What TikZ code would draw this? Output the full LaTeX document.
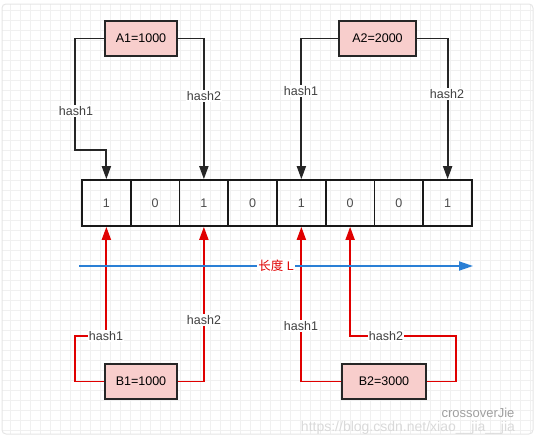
\documentclass[tikz,border=0pt]{standalone}
\usepackage{fontspec}
\setmainfont{Liberation Sans}
\newfontfamily\cjk{Noto Sans CJK SC}
\usetikzlibrary{arrows.meta}

\definecolor{boxpink}{HTML}{F8CECC}
\definecolor{hashred}{HTML}{E00000}
\definecolor{axisblue}{HTML}{2A7FD5}
\newcommand{\twelve}{\fontsize{12.5}{14}\selectfont}

\begin{document}
\begin{tikzpicture}[x=1pt,y=-1pt,
    keybox/.style={draw=black!85, fill=boxpink, line width=1.7pt, minimum height=35pt, inner sep=0pt, font=\twelve},
    cell/.style={draw=black!90, line width=1.7pt, minimum width=48.75pt, minimum height=46pt, inner sep=0pt, font=\twelve, text=black!70},
    blkarrow/.style={draw=black!85, line width=1.8pt, -{Triangle[length=13pt,width=9pt]}},
    redarrow/.style={draw=hashred, line width=1.8pt, -{Triangle[length=13pt,width=9pt]}},
    axisline/.style={draw=axisblue, line width=1.8pt, -{Triangle[length=14pt,width=9pt]}},
    lbl/.style={fill=white, inner sep=1pt, text=black!75, font=\twelve}]

		\useasboundingbox (0,0) rectangle (536,447);

		% grid paper
		\foreach \gx in {10,20,...,530}
			\draw[gray!12, line width=0.6pt] (\gx,4) -- (\gx,434);
		\foreach \gy in {10,20,...,430}
			\draw[gray!12, line width=0.6pt] (2,\gy) -- (533,\gy);
		\draw[gray!20, line width=1pt, rounded corners=4pt] (2,4) rectangle (533,434);

		% the bit array
		\foreach \v [count=\i] in {1,0,1,0,1,0,0,1}
			\node[cell] (c\i) at ({82+48.75*(\i-0.5)},203) {\v};

		% keys
		\node[keybox, minimum width=72pt] (a1) at (141,38.5) {A1=1000};
		\node[keybox, minimum width=77pt] (a2) at (377.5,38.5) {A2=2000};
		\node[keybox, minimum width=72pt] (b1) at (141,381.5) {B1=1000};
		\node[keybox, minimum width=84pt] (b2) at (384,381.5) {B2=3000};

		% bends
		\coordinate (a1k) at (75,150);
		\coordinate (b1k) at (75,336);
		\coordinate (b2k) at (456,336);

		% A1 and A2 set their bits
		\draw[blkarrow] (a1.west) -| (a1k) -| (c1.north);
		\draw[blkarrow] (a1.east) -| (c3.north);
		\draw[blkarrow] (a2.west) -| (c5.north);
		\draw[blkarrow] (a2.east) -| (c8.north);

		% B1 and B2 look up their bits
		\draw[redarrow] (b1.west) -| (b1k) -| (c1.south);
		\draw[redarrow] (b1.east) -| (c3.south);
		\draw[redarrow] (b2.west) -| (c5.south);
		\draw[redarrow] (b2.east) -| (b2k) -| (c6.south);

		\node[lbl] (a1h1) at (76,111) {hash1};
		\node[lbl] (a1h2) at (204,96) {hash2};
		\node[lbl] (a2h1) at (301,91) {hash1};
		\node[lbl] (a2h2) at (447,94) {hash2};
		\node[lbl] (b1h1) at (106,336) {hash1};
		\node[lbl] (b1h2) at (204,320) {hash2};
		\node[lbl] (b2h1) at (301,326) {hash1};
		\node[lbl] (b2h2) at (386,336) {hash2};

		% length of the array
		\coordinate (axs) at (79,266);
		\coordinate (axe) at (473,266);
		\draw[axisline] (axs) -- (axe);
		\node[fill=white, inner sep=1pt, text=hashred, font=\twelve] (len) at (276,266) {{\cjk 长度} L};

		% watermark
		\node[text=gray!75, font=\fontsize{13}{15}\selectfont] (wm) at (478,413) {crossoverJie};
		\node[text=gray!30, font=\fontsize{14}{16}\selectfont] (url) at (408,428) {https://blog.csdn.net/xiao\_\_jia\_\_jia};
\end{tikzpicture}
\end{document}
